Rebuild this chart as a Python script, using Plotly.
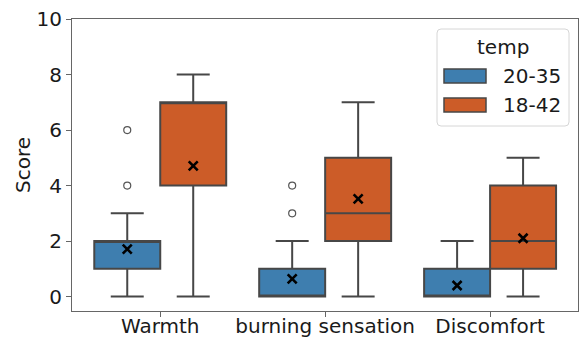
import plotly.graph_objects as go

# ---- data ----
categories = ["Warmth", "burning sensation", "Discomfort"]
groups = ["20-35", "18-42"]
colors = ["#3e7eaf", "#cc5c28"]

q1_a = [1, 0, 0]
median_a = [2, 0, 0]
q3_a = [2, 1, 1]
low_a = [0, 0, 0]
high_a = [3, 2, 2]
mean_a = [1.71, 0.64, 0.40]
outlier_cat_a = [0, 0, 1, 1]
outlier_val_a = [4, 6, 3, 4]

q1_b = [4, 2, 1]
median_b = [7, 3, 2]
q3_b = [7, 5, 4]
low_b = [0, 0, 0]
high_b = [8, 7, 5]
mean_b = [4.71, 3.52, 2.10]
outlier_cat_b = []
outlier_val_b = []

yticks = [0, 2, 4, 6, 8, 10]

stats = [
    (q1_a, median_a, q3_a, low_a, high_a, mean_a, outlier_cat_a, outlier_val_a),
    (q1_b, median_b, q3_b, low_b, high_b, mean_b, outlier_cat_b, outlier_val_b),
]

W, H = 581, 338
L, R, T, B = 72, 3, 19, 27
FONT = "DejaVu Sans"
FS = 20
EDGE = "#474747"
offsets = [-0.2, 0.2]
boxw = 0.4

fig = go.Figure()
for gi, (q1, med, q3, lo, hi, mn, oc, ov) in enumerate(stats):
    xs = [i + offsets[gi] for i in range(len(categories))]
    fig.add_trace(go.Box(
        x=xs, q1=q1, median=med, q3=q3, lowerfence=lo, upperfence=hi,
        width=boxw, whiskerwidth=0.5, fillcolor=colors[gi],
        line=dict(color=EDGE, width=2), boxpoints=False,
        name=groups[gi], showlegend=False, hoverinfo="skip",
    ))
    if ov:
        fig.add_trace(go.Scatter(
            x=[c + offsets[gi] for c in oc], y=ov, mode="markers",
            marker=dict(symbol="circle-open", size=7, color="#555555", line=dict(width=1.2)),
            showlegend=False, hoverinfo="skip",
        ))
    fig.add_trace(go.Scatter(
        x=xs, y=mn, mode="markers",
        marker=dict(symbol="x-thin", size=9, color="black", line=dict(width=2.6, color="black")),
        showlegend=False, hoverinfo="skip",
    ))

pw, ph = W - L - R, H - T - B
def px(x):
    return (x - L) / pw
def py(y):
    return (H - B - y) / ph

# custom legend (matplotlib style)
x0, x1, y0, y1, r = px(437), px(569), py(126), py(29), 4
shapes = []
rx, ry = r / pw, r / ph
path = (f"M {x0+rx},{y0} L {x1-rx},{y0} Q {x1},{y0} {x1},{y0+ry} "
        f"L {x1},{y1-ry} Q {x1},{y1} {x1-rx},{y1} L {x0+rx},{y1} "
        f"Q {x0},{y1} {x0},{y1-ry} L {x0},{y0+ry} Q {x0},{y0} {x0+rx},{y0} Z")
shapes.append(dict(type="path", xref="paper", yref="paper", path=path,
                   fillcolor="rgba(255,255,255,0.85)", line=dict(color="#d6d6d6", width=1)))
annotations = [dict(x=px(503), y=py(47), xref="paper", yref="paper", text="temp",
                    showarrow=False, font=dict(family=FONT, size=FS, color="#1a1a1a"),
                    xanchor="center", yanchor="middle")]
for gi, g in enumerate(groups):
    cy = 76 + gi * 29
    shapes.append(dict(type="rect", xref="paper", yref="paper",
                       x0=px(444), x1=px(486), y0=py(cy + 7), y1=py(cy - 7),
                       fillcolor=colors[gi], line=dict(color=EDGE, width=1.5)))
    annotations.append(dict(x=px(501), y=py(cy), xref="paper", yref="paper", text=g,
                            showarrow=False, font=dict(family=FONT, size=FS, color="#1a1a1a"),
                            xanchor="left", yanchor="middle"))

fig.update_layout(
    width=W, height=H, autosize=False,
    margin=dict(l=L, r=R, t=T, b=B, pad=0),
    plot_bgcolor="white", paper_bgcolor="white",
    font=dict(family=FONT, size=FS, color="#1a1a1a"),
    boxmode="overlay", showlegend=False,
    shapes=shapes, annotations=annotations,
)
fig.update_xaxes(
    range=[-0.535, 2.533], tickvals=list(range(len(categories))), ticktext=categories,
    showline=True, mirror=True, linecolor="#666666", linewidth=1.2,
    ticks="outside", ticklen=5, tickcolor="#666666", tickwidth=1.2,
    showgrid=False, zeroline=False, automargin=False, ticklabelstandoff=-8,
)
fig.update_yaxes(
    range=[-0.52, 10], tickvals=yticks,
    showline=True, mirror=True, linecolor="#666666", linewidth=1.2,
    ticks="outside", ticklen=5, tickcolor="#666666", tickwidth=1.2,
    showgrid=False, zeroline=False, automargin=False,
    title=dict(text="Score", standoff=0, font=dict(family=FONT, size=FS, color="#1a1a1a")),
)

fig.write_html("out.html", post_script="document.body.style.margin='0';",
               config={"displayModeBar": False})
